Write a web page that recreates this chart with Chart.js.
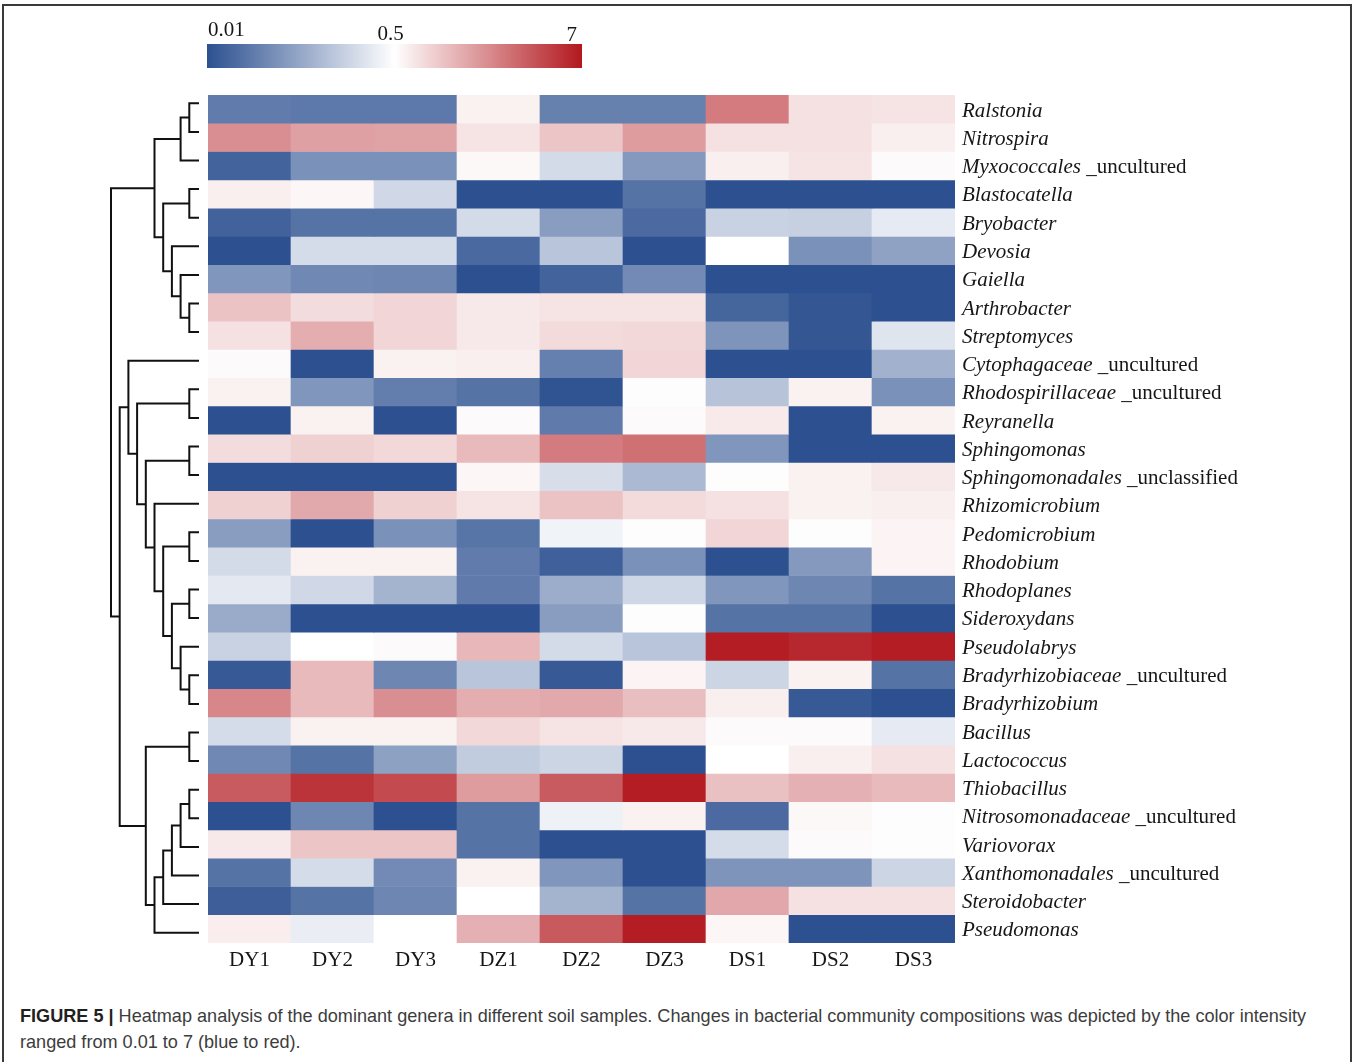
<!DOCTYPE html>
<html>
<head>
<meta charset="utf-8">
<title>Dominant genera heatmap</title>
<script src="https://cdn.jsdelivr.net/npm/chart.js@4.4.1/dist/chart.umd.min.js"></script>
<style>
  html, body { margin: 0; padding: 0; background: #fff; }
  body { width: 1352px; height: 1062px; position: relative; overflow: hidden; }
  #frame { position: absolute; left: 2px; top: 4px; width: 1346px; height: 1100px; border: 2px solid #3a3a3a; }
  #heatmap { position: absolute; left: 0; top: 0; }
  #caption { position: absolute; left: 20px; top: 1003px; font-family: "Liberation Sans", Arial, sans-serif;
             font-size: 18.1px; line-height: 26px; color: #3c3c3c; white-space: nowrap; }
  #caption b { color: #231f20; }
</style>
</head>
<body>
<div id="frame"></div>
<canvas id="heatmap" width="1352" height="990"></canvas>
<div id="caption"><b>FIGURE 5 |</b> Heatmap analysis of the dominant genera in different soil samples. Changes in bacterial community compositions was depicted by the color intensity<br>ranged from 0.01 to 7 (blue to red).</div>
<script>
// Samples (columns) and genera (rows, top to bottom)
const samples = ['DY1', 'DY2', 'DY3', 'DZ1', 'DZ2', 'DZ3', 'DS1', 'DS2', 'DS3'];
const genera = [
  'Ralstonia', 'Nitrospira', 'Myxococcales _uncultured', 'Blastocatella', 'Bryobacter',
  'Devosia', 'Gaiella', 'Arthrobacter', 'Streptomyces', 'Cytophagaceae _uncultured',
  'Rhodospirillaceae _uncultured', 'Reyranella', 'Sphingomonas', 'Sphingomonadales _unclassified', 'Rhizomicrobium',
  'Pedomicrobium', 'Rhodobium', 'Rhodoplanes', 'Sideroxydans', 'Pseudolabrys',
  'Bradyrhizobiaceae _uncultured', 'Bradyrhizobium', 'Bacillus', 'Lactococcus', 'Thiobacillus',
  'Nitrosomonadaceae _uncultured', 'Variovorax', 'Xanthomonadales _uncultured', 'Steroidobacter', 'Pseudomonas'
];

// Relative abundance per sample, one value per genus (same order as genera)
const DY1 = [0.0266, 1.82, 0.0154, 0.601, 0.0148, 0.01, 0.0478, 0.993, 0.705, 0.527, 0.586, 0.01, 0.743, 0.01, 0.848,
             0.0559, 0.22, 0.30, 0.0765, 0.181, 0.0122, 1.97, 0.229, 0.035, 3.26, 0.01, 0.651, 0.0219, 0.0137, 0.617];
const DY2 = [0.0246, 1.475, 0.0425, 0.556, 0.0219, 0.229, 0.035, 0.743, 1.26, 0.01, 0.0478, 0.586, 0.848, 0.01, 1.33,
             0.01, 0.586, 0.211, 0.01, 0.5, 1.10, 1.10, 0.586, 0.0219, 5.1, 0.0336, 0.967, 0.229, 0.0219, 0.338];
const DY3 = [0.0246, 1.437, 0.0425, 0.211, 0.0219, 0.229, 0.0336, 0.804, 0.804, 0.586, 0.0277, 0.01, 0.783, 0.01, 0.848,
             0.0425, 0.586, 0.093, 0.01, 0.527, 0.0336, 1.82, 0.586, 0.0605, 3.92, 0.01, 0.967, 0.0364, 0.0336, 0.5];
const DZ1 = [0.586, 0.686, 0.541, 0.01, 0.22, 0.0173, 0.01, 0.651, 0.651, 0.601, 0.0219, 0.527, 1.10, 0.556, 0.686,
             0.0227, 0.0266, 0.0256, 0.01, 1.133, 0.1375, 1.26, 0.783, 0.161, 1.556, 0.0219, 0.0219, 0.586, 0.5, 1.226];
const DZ2 = [0.0299, 0.967, 0.22, 0.01, 0.0559, 0.1375, 0.0154, 0.686, 0.763, 0.0288, 0.0108, 0.0256, 2.25, 0.238, 0.993,
             0.38, 0.0142, 0.0795, 0.0559, 0.22, 0.0122, 1.33, 0.686, 0.196, 3.26, 0.366, 0.01, 0.0478, 0.093, 3.34];
const DZ3 = [0.0299, 1.556, 0.0517, 0.0219, 0.018, 0.01, 0.0364, 0.686, 0.783, 0.804, 0.513, 0.527, 2.57, 0.1045, 0.763,
             0.513, 0.0425, 0.203, 0.513, 0.1375, 0.571, 1.047, 0.651, 0.01, 6.64, 0.586, 0.01, 0.01, 0.0219, 6.64];
const DS1 = [2.25, 0.705, 0.601, 0.01, 0.181, 0.5, 0.01, 0.016, 0.046, 0.01, 0.132, 0.634, 0.0478, 0.513, 0.705,
             0.804, 0.01, 0.0478, 0.0219, 6.64, 0.196, 0.601, 0.527, 0.5, 1.02, 0.018, 0.229, 0.046, 1.363, 0.556];
const DS2 = [0.705, 0.705, 0.686, 0.01, 0.174, 0.0425, 0.01, 0.0117, 0.0117, 0.01, 0.586, 0.01, 0.01, 0.586, 0.586,
             0.513, 0.0517, 0.0336, 0.0219, 5.82, 0.586, 0.0122, 0.527, 0.601, 1.226, 0.541, 0.527, 0.046, 0.705, 0.01];
const DS3 = [0.686, 0.601, 0.527, 0.01, 0.313, 0.0629, 0.01, 0.01, 0.278, 0.0895, 0.0425, 0.586, 0.01, 0.651, 0.601,
             0.571, 0.571, 0.0219, 0.01, 6.64, 0.0219, 0.01, 0.313, 0.705, 1.10, 0.513, 0.513, 0.196, 0.705, 0.01];

// Colour-scale ticks: low end, white midpoint, high end
const scaleTicks = [0.01, 0.5, 7];

// Row clustering: [child a, child b, level]; leaves are 0..29, merged nodes are numbered from 30
const merges = [
  [0, 1, 1], [30, 2, 2], [3, 4, 1], [7, 8, 1], [6, 33, 2], [5, 34, 3], [32, 35, 4], [31, 36, 5],
  [10, 11, 1], [12, 13, 1], [15, 16, 1], [17, 18, 1], [20, 21, 1], [19, 42, 2], [41, 43, 3], [40, 44, 4],
  [14, 45, 5], [39, 46, 6], [38, 47, 7], [9, 48, 8],
  [22, 23, 1], [24, 25, 1], [51, 26, 2], [52, 27, 3], [53, 28, 4], [54, 29, 5], [50, 55, 6],
  [49, 56, 9], [37, 57, 10]
];

const columns = [DY1, DY2, DY3, DZ1, DZ2, DZ3, DS1, DS2, DS3];

// Diverging colour scale, log-spaced on each side of the white midpoint
const LOW = [44, 80, 144], MID = [255, 255, 255], HIGH = [178, 24, 30];
function scalePos(v) {
  const lo = Math.log(scaleTicks[0]), mid = Math.log(scaleTicks[1]), hi = Math.log(scaleTicks[2]);
  const l = Math.log(Math.min(Math.max(v, scaleTicks[0]), scaleTicks[2]));
  return l <= mid ? 0.5 * (l - lo) / (mid - lo) : 0.5 + 0.5 * (l - mid) / (hi - mid);
}
function mix(a, b, f) {
  return 'rgb(' + a.map((c, k) => Math.round(c + (b[k] - c) * f)).join(',') + ')';
}
function colourAt(t) {
  return t <= 0.5 ? mix(LOW, MID, t / 0.5) : mix(MID, HIGH, (t - 0.5) / 0.5);
}
const colourFor = v => colourAt(scalePos(v));

const SERIF = '"Liberation Serif", "Times New Roman", serif';
const INK = '#161616';

// Dendrogram, row names and colour key drawn around the heatmap area
const decorations = {
  id: 'decorations',
  afterDraw(chart) {
    const ctx = chart.ctx, area = chart.chartArea, y = chart.scales.y;

    // --- dendrogram ---
    const leafTop = area.top - 6, leafBottom = area.bottom + 4;
    const slot = (leafBottom - leafTop) / genera.length;
    const tipX = area.left - 10, step = 8.7;
    const nodes = genera.map((g, i) => ({ x: tipX, y: leafTop + (i + 0.5) * slot }));
    ctx.save();
    ctx.strokeStyle = '#111';
    ctx.lineWidth = 2;
    ctx.lineCap = 'square';
    ctx.beginPath();
    merges.forEach(([a, b, level]) => {
      const na = nodes[a], nb = nodes[b];
      const x = tipX - level * step;
      ctx.moveTo(na.x, na.y); ctx.lineTo(x, na.y);
      ctx.moveTo(nb.x, nb.y); ctx.lineTo(x, nb.y);
      ctx.moveTo(x, na.y); ctx.lineTo(x, nb.y);
      nodes.push({ x: x, y: (na.y + nb.y) / 2 });
    });
    ctx.stroke();
    ctx.restore();

    // --- row names: italic genus, upright suffix ---
    ctx.save();
    ctx.fillStyle = INK;
    ctx.textBaseline = 'middle';
    ctx.textAlign = 'left';
    genera.forEach((name, i) => {
      const py = y.getPixelForValue(i + 0.5) + 2;
      const x0 = area.right + 7;
      const parts = name.split(' _');
      ctx.font = 'italic 21px ' + SERIF;
      ctx.fillText(parts[0], x0, py);
      if (parts.length > 1) {
        const w = ctx.measureText(parts[0] + ' ').width;
        ctx.font = '21px ' + SERIF;
        ctx.fillText('_' + parts[1], x0 + w, py);
      }
    });
    ctx.restore();

    // --- colour key ---
    const kx = area.left - 1, kw = 375, ky = 44, kh = 24;
    ctx.save();
    const grad = ctx.createLinearGradient(kx, 0, kx + kw, 0);
    for (let s = 0; s <= 40; s++) grad.addColorStop(s / 40, colourAt(s / 40));
    ctx.fillStyle = grad;
    ctx.fillRect(kx, ky, kw, kh);
    ctx.fillStyle = INK;
    ctx.font = '21px ' + SERIF;
    ctx.textBaseline = 'alphabetic';
    scaleTicks.forEach((v, k) => {
      const px = kx + scalePos(v) * kw;
      if (k === 0) { ctx.textAlign = 'left'; ctx.fillText(String(v), px + 1, 36); }
      else if (k === scaleTicks.length - 1) { ctx.textAlign = 'right'; ctx.fillText(String(v), px - 5, 41); }
      else { ctx.textAlign = 'center'; ctx.fillText(String(v), px - 4, 40); }
    });
    ctx.restore();
  }
};

new Chart(document.getElementById('heatmap'), {
  type: 'bar',
  data: {
    labels: samples,
    datasets: genera.map((g, i) => ({
      label: g,
      data: samples.map(() => 1),
      values: columns.map(col => col[i]),
      backgroundColor: columns.map(col => colourFor(col[i])),
      borderWidth: 0,
      barPercentage: 1,
      categoryPercentage: 1
    }))
  },
  options: {
    responsive: false,
    animation: false,
    layout: { padding: { left: 208, right: 397, top: 95, bottom: 7 } },
    plugins: {
      legend: { display: false },
      tooltip: {
        callbacks: {
          label: c => c.dataset.label + ': ' + c.dataset.values[c.dataIndex]
        }
      }
    },
    scales: {
      x: {
        stacked: true,
        grid: { display: false },
        border: { display: false },
        ticks: { font: { family: SERIF, size: 21 }, color: INK, padding: -3, maxRotation: 0, autoSkip: false },
        afterFit: s => { s.height = 40; }
      },
      y: { stacked: true, min: 0, max: genera.length, reverse: true, display: false }
    }
  },
  plugins: [decorations]
});
</script>
</body>
</html>
